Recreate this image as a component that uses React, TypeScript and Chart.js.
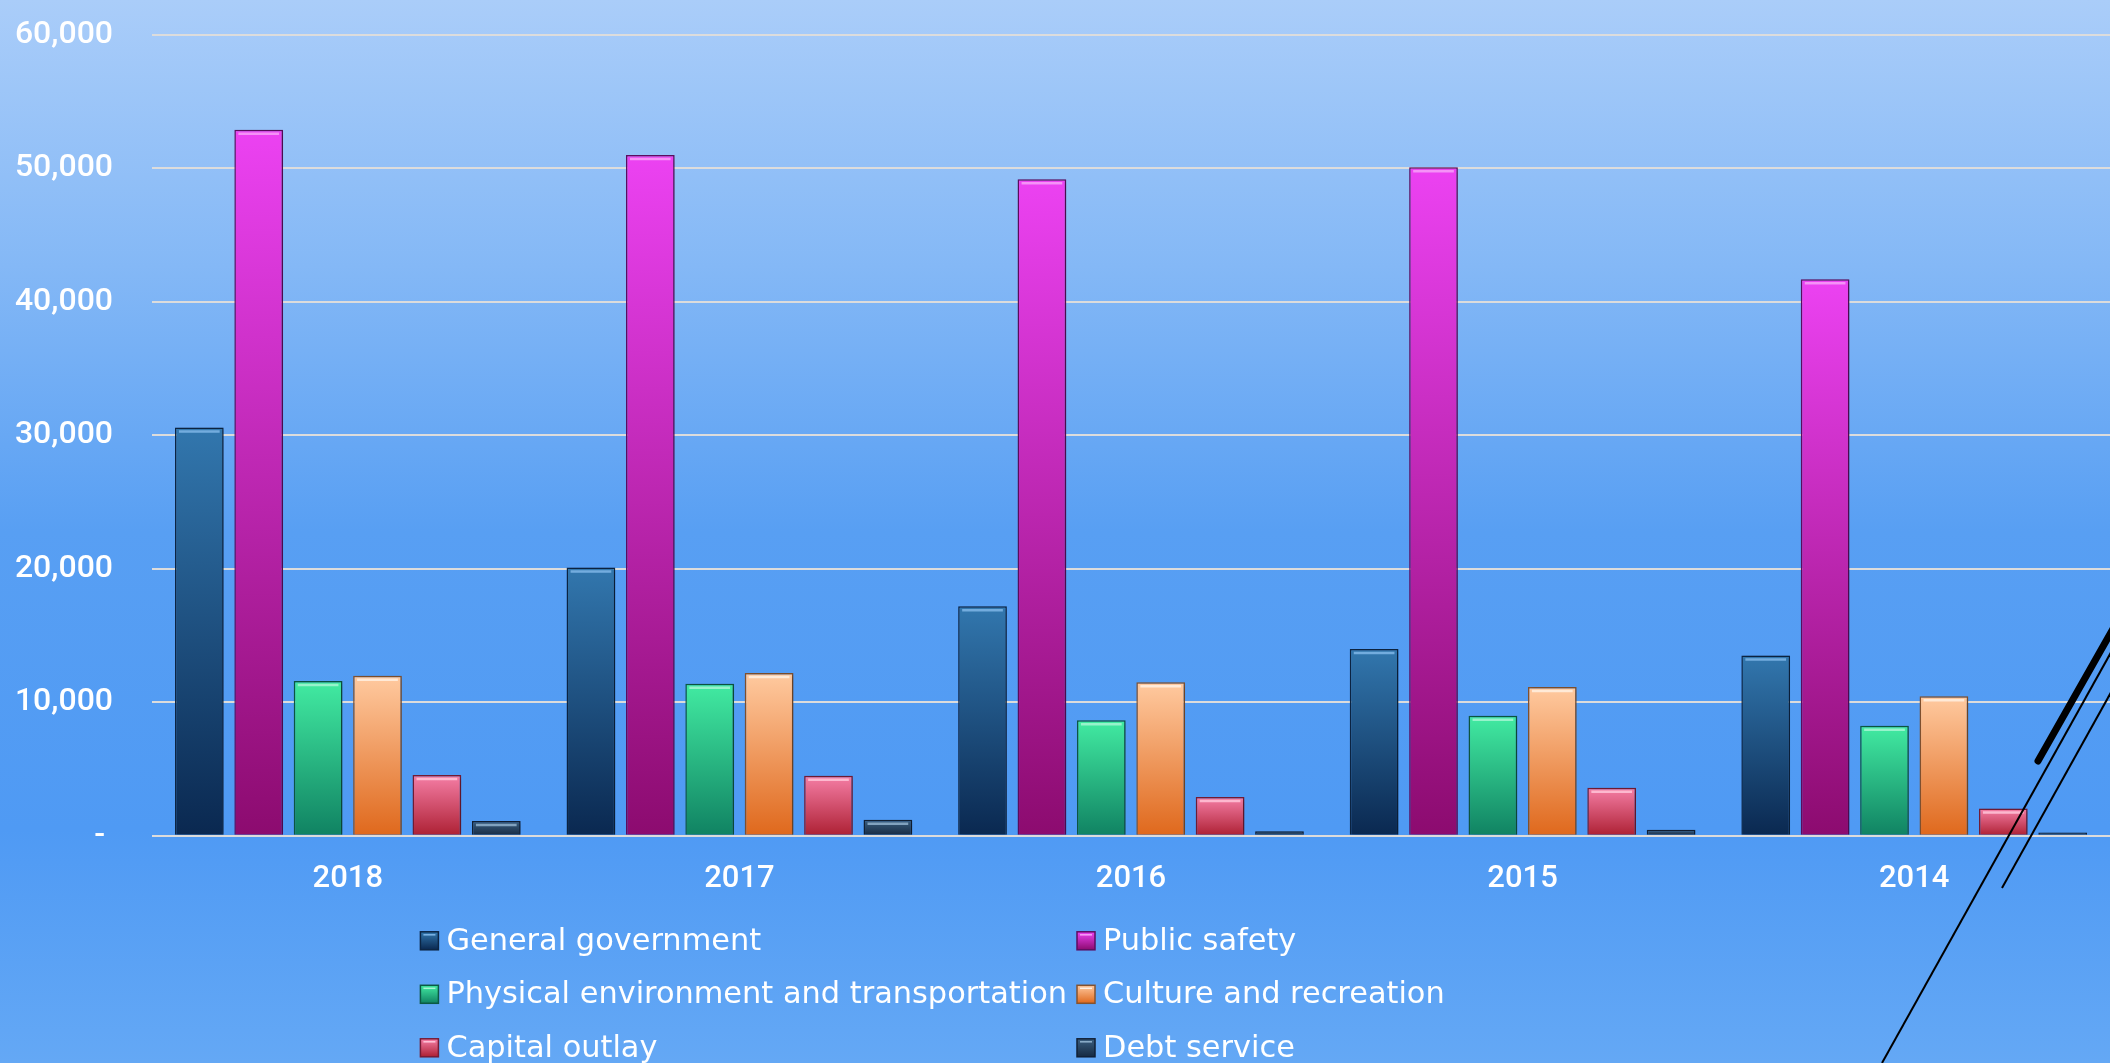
import React, { useEffect, useRef } from "react";
import { Chart, registerables } from "chart.js";

Chart.register(...registerables);

// ---------- data ----------
const categories = ["2018", "2017", "2016", "2015", "2014"];
const seriesNames = [
  "General government",
  "Public safety",
  "Physical environment and transportation",
  "Culture and recreation",
  "Capital outlay",
  "Debt service",
];
const generalGovernment = [30600, 20100, 17200, 14000, 13500];
const publicSafety = [52900, 51000, 49200, 50100, 41700];
const physicalEnvironment = [11600, 11400, 8650, 9000, 8250];
const cultureRecreation = [12000, 12200, 11500, 11150, 10450];
const capitalOutlay = [4550, 4500, 2900, 3600, 2050];
const debtService = [1100, 1200, 350, 450, 250];
const yMin = 0;
const yMax = 60000;
const yStep = 10000;

// ---------- styles ----------
const palette = [
  { top: "#3277ae", bottom: "#0a2850", border: "#0c2544", hi: "#7fb6e6" },
  { top: "#ec42f2", bottom: "#8c0b6f", border: "#5e0c62", hi: "#f7a0f8" },
  { top: "#42eba2", bottom: "#108262", border: "#0c5a44", hi: "#a6f5d2" },
  { top: "#ffcaa0", bottom: "#df681c", border: "#85532f", hi: "#fff0e2" },
  { top: "#f57ea6", bottom: "#ad2033", border: "#761c36", hi: "#ffc4d8" },
  { top: "#3a5e80", bottom: "#162a42", border: "#112036", hi: "#8fb0cc" },
];
const TICK_FONT = "Roboto, 'DejaVu Sans', sans-serif";
const LEGEND_FONT = "'DejaVu Sans', Roboto, sans-serif";

const seriesValues = [
  generalGovernment,
  publicSafety,
  physicalEnvironment,
  cultureRecreation,
  capitalOutlay,
  debtService,
];

function barFill(top: string, bottom: string) {
  return (ctx: any) => {
    const chart = ctx.chart;
    const y = chart.scales && chart.scales.y;
    if (!y || ctx.type !== "data") return bottom;
    const y0 = y.getPixelForValue(ctx.raw as number);
    const y1 = y.getPixelForValue(0);
    if (!isFinite(y0) || !isFinite(y1) || y0 === y1) return bottom;
    const g = chart.ctx.createLinearGradient(0, y0, 0, y1);
    g.addColorStop(0, top);
    g.addColorStop(1, bottom);
    return g;
  };
}

const backgroundPlugin = {
  id: "slideBackground",
  beforeDraw(chart: any) {
    const { ctx, width, height } = chart;
    ctx.save();
    const g = ctx.createLinearGradient(0, 0, 0, height);
    g.addColorStop(0, "#aacdf9");
    g.addColorStop(0.25, "#84b8f6");
    g.addColorStop(0.5, "#589ff3");
    g.addColorStop(0.78, "#4f9af4");
    g.addColorStop(1, "#64a8f5");
    ctx.fillStyle = g;
    ctx.fillRect(0, 0, width, height);
    ctx.restore();
  },
};

const barEffectsPlugin = {
  id: "barEffects",
  beforeDatasetsDraw(chart: any) {
    const ctx = chart.ctx;
    ctx.save();
    ctx.shadowColor = "rgba(0,0,0,0.28)";
    ctx.shadowBlur = 5;
    ctx.shadowOffsetX = 2;
    ctx.shadowOffsetY = 1;
  },
  afterDatasetsDraw(chart: any) {
    const ctx = chart.ctx;
    ctx.restore();
    ctx.save();
    chart.data.datasets.forEach((ds: any, di: number) => {
      const meta = chart.getDatasetMeta(di);
      const hi = palette[di].hi;
      meta.data.forEach((el: any) => {
        const { x, y, width, base } = el.getProps(["x", "y", "width", "base"], true);
        if (base - y < 7) return;
        ctx.strokeStyle = hi;
        ctx.globalAlpha = 0.85;
        ctx.lineWidth = 2.5;
        ctx.beginPath();
        ctx.moveTo(x - width / 2 + 4, y + 4);
        ctx.lineTo(x + width / 2 - 4, y + 4);
        ctx.stroke();
      });
    });
    ctx.restore();
  },
};

const legendPlugin = {
  id: "gridLegend",
  afterDraw(chart: any) {
    const ctx = chart.ctx;
    const datasets = chart.data.datasets;
    ctx.save();
    ctx.font = `30.4px ${LEGEND_FONT}`;
    const box = 18;
    const gap = 8;
    const colGap = 10;
    const maxW = Math.max(...datasets.map((d: any) => ctx.measureText(d.label).width));
    const colW = box + gap + maxW + colGap;
    const cols = 2;
    const total = colW * cols;
    const left = chart.width / 2 + 22 - total / 2;
    const firstRow = chart.chartArea.bottom + 105;
    const rowH = 53.5;
    datasets.forEach((d: any, i: number) => {
      const col = i % cols;
      const row = Math.floor(i / cols);
      const bx = left + col * colW;
      const cy = firstRow + row * rowH;
      const p = palette[i];
      const g = ctx.createLinearGradient(0, cy - box / 2, 0, cy + box / 2);
      g.addColorStop(0, p.top);
      g.addColorStop(1, p.bottom);
      ctx.fillStyle = g;
      ctx.fillRect(bx, cy - box / 2, box, box);
      ctx.strokeStyle = p.border;
      ctx.lineWidth = 1.5;
      ctx.strokeRect(bx, cy - box / 2, box, box);
      ctx.strokeStyle = p.hi;
      ctx.lineWidth = 1.5;
      ctx.beginPath();
      ctx.moveTo(bx + 3, cy - box / 2 + 3);
      ctx.lineTo(bx + box - 3, cy - box / 2 + 3);
      ctx.stroke();
      ctx.fillStyle = "#ffffff";
      ctx.textBaseline = "middle";
      ctx.textAlign = "left";
      ctx.fillText(d.label, bx + box + gap, cy + 1);
    });
    ctx.restore();
  },
};

// decorative slide strokes (bottom right corner of the slide)
const decorationPlugin = {
  id: "slideDecoration",
  afterDraw(chart: any) {
    const ctx = chart.ctx;
    const W = chart.width;
    const H = chart.height;
    ctx.save();
    ctx.strokeStyle = "#000000";
    ctx.lineCap = "round";
    ctx.lineWidth = 7;
    ctx.beginPath();
    ctx.moveTo(W - 72, H - 302);
    ctx.lineTo(W + 4, H - 436);
    ctx.stroke();
    ctx.lineCap = "butt";
    ctx.lineWidth = 2;
    ctx.beginPath();
    ctx.moveTo(W - 228, H);
    ctx.lineTo(W + 4, H - 416);
    ctx.stroke();
    ctx.beginPath();
    ctx.moveTo(W - 108, H - 175);
    ctx.lineTo(W + 4, H - 376);
    ctx.stroke();
    ctx.restore();
  },
};

export default function App() {
  const canvasRef = useRef<HTMLCanvasElement | null>(null);

  useEffect(() => {
    document.body.style.margin = "0";
    document.body.style.overflow = "hidden";
    const canvas = canvasRef.current;
    if (!canvas) return;

    const datasets = seriesNames.map((name, i) => ({
      label: name,
      data: seriesValues[i],
      backgroundColor: barFill(palette[i].top, palette[i].bottom),
      borderColor: palette[i].border,
      borderWidth: 1.5,
      barPercentage: 0.82,
      categoryPercentage: 0.91,
    }));

    const chart = new Chart(canvas, {
      type: "bar",
      data: { labels: categories, datasets },
      plugins: [backgroundPlugin, barEffectsPlugin, legendPlugin, decorationPlugin],
      options: {
        animation: false,
        responsive: false,
        devicePixelRatio: 1,
        layout: { padding: { top: 35, right: 0, bottom: 140, left: 0 } },
        plugins: {
          legend: { display: false },
          tooltip: { enabled: false },
          title: { display: false },
        },
        scales: {
          x: {
            grid: { display: false, drawTicks: false },
            border: { display: false },
            ticks: {
              color: "#ffffff",
              font: { family: TICK_FONT, size: 31, weight: 500 },
              padding: 25,
            },
          },
          y: {
            min: yMin,
            max: yMax,
            afterFit: (scale: any) => {
              scale.width = 152;
              scale.paddingTop = 0;
              scale.paddingBottom = 0;
            },
            grid: { color: "#dcdcdc", lineWidth: 2, drawTicks: false },
            border: { display: false },
            ticks: {
              stepSize: yStep,
              color: "#ffffff",
              font: { family: TICK_FONT, size: 32, weight: 500 },
              padding: 39,
              callback: (v: any) => (Number(v) === 0 ? "- " : Number(v).toLocaleString("en-US")),
            },
          },
        },
      },
    });

    return () => chart.destroy();
  }, []);

  return (
    <div style={{ width: 2110, height: 1063 }}>
      <canvas ref={canvasRef} width={2110} height={1063} style={{ display: "block" }} />
    </div>
  );
}
